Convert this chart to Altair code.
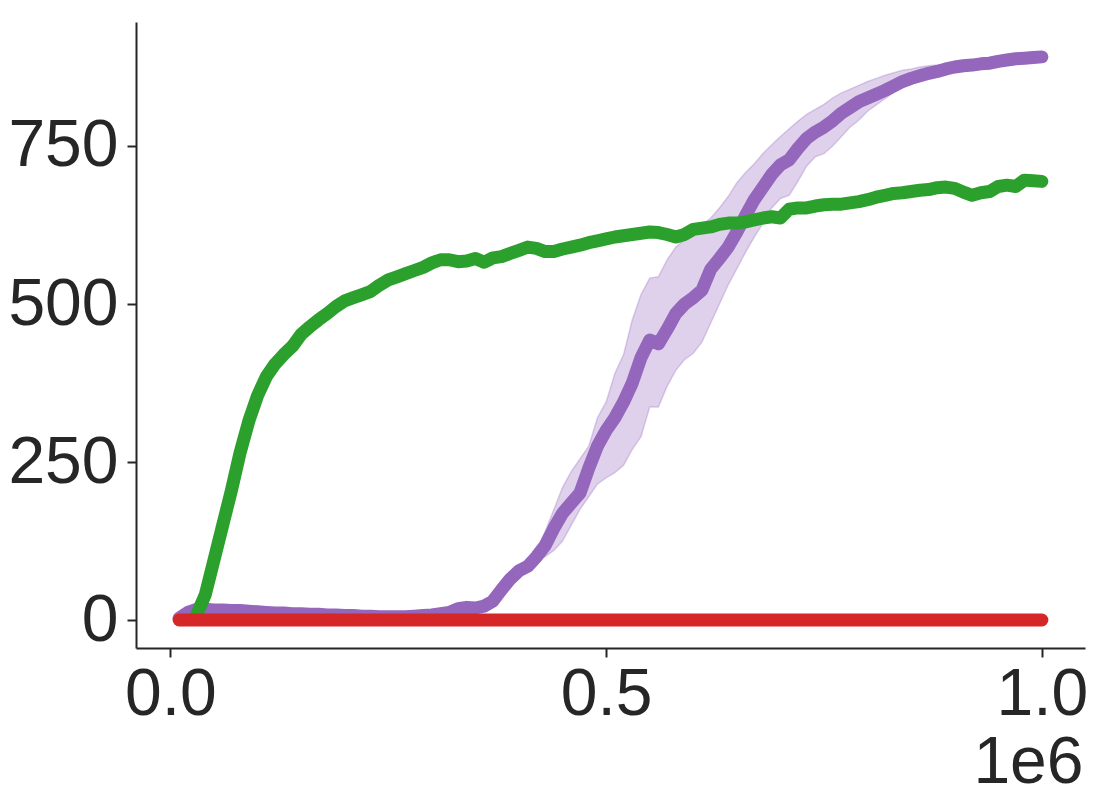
import altair as alt
import pandas as pd

# ---------------- data ----------------
# x positions in environment steps
x_grid = [k * 10000 for k in range(1, 101)]          # 0.01e6 .. 1.00e6

purple_y = [3, 12, 17, 17, 16, 16, 15, 15, 14, 13,
            12, 11, 11, 10, 10, 9, 9, 8, 8, 7,
            7, 6, 6, 5, 5, 5, 5, 6, 7, 8,
            10, 12, 18, 20, 19, 22, 30, 48, 65, 78,
            85, 100, 118, 145, 169, 185, 201, 240, 275, 300,
            320, 345, 375, 415, 443, 437, 460, 485, 500, 510,
            522, 555, 572, 590, 614, 640, 665, 685, 705, 720,
            728, 746, 762, 772, 780, 790, 802, 811, 820, 826,
            832, 838, 845, 852, 857, 861, 865, 868, 872, 875,
            877, 878, 880, 881, 884, 886, 888, 889, 890, 891]

band_x = [k * 10000 for k in range(40, 93)]          # 0.40e6 .. 0.92e6
purple_hi = [82, 89, 108, 140, 175, 210, 235, 255, 275, 320,
             345, 390, 420, 475, 515, 541, 543, 570, 590, 602,
             615, 625, 636, 652, 670, 692, 708, 722, 738, 752,
             765, 777, 789, 800, 808, 816, 826, 834, 840, 846,
             852, 857, 862, 866, 870, 872, 875, 877, 878, 879,
             880, 880, 881]
purple_lo = [74, 81, 96, 100, 110, 125, 150, 175, 195, 215,
             225, 233, 245, 270, 290, 337, 337, 370, 395, 412,
             422, 440, 470, 500, 530, 556, 582, 606, 628, 652,
             667, 672, 694, 718, 733, 738, 750, 765, 780, 791,
             805, 815, 825, 835, 843, 850, 855, 860, 864, 868,
             871, 874, 875]

green_x = [k * 10000 for k in range(3, 101)]         # 0.03e6 .. 1.00e6
green_y = [8, 40, 95, 150, 205, 265, 315, 355, 385, 405,
           420, 433, 452, 464, 475, 485, 496, 505, 510, 515,
           520, 530, 538, 543, 548, 553, 558, 565, 570, 570,
           567, 568, 572, 566, 573, 575, 580, 585, 590, 588,
           583, 583, 587, 590, 593, 597, 600, 603, 606, 608,
           610, 612, 614, 613, 610, 606, 610, 618, 620, 622,
           626, 628, 628, 630, 633, 636, 638, 636, 650, 652,
           652, 655, 657, 658, 658, 660, 662, 665, 669, 672,
           675, 676, 678, 680, 681, 684, 685, 683, 677, 672,
           676, 678, 686, 688, 686, 696, 695, 694]

red_y = [0.0] * len(x_grid)

x_ticks = [0, 500000, 1000000]
y_ticks = [0, 250, 500, 750]

PURPLE = "#9467bd"
GREEN = "#2ca02c"
RED = "#d62728"
INK = "#262626"
FONT = "Liberation Sans"

purple_df = pd.DataFrame({"x": x_grid, "y": purple_y})
band_df = pd.DataFrame({"x": band_x, "lo": purple_lo, "hi": purple_hi})
green_df = pd.DataFrame({"x": green_x, "y": green_y})
red_df = pd.DataFrame({"x": x_grid, "y": red_y})

W, H = 949, 626

x_enc = alt.X(
    "x:Q",
    scale=alt.Scale(domain=[-39500, 1049500], nice=False, zero=False),
    axis=alt.Axis(
        values=x_ticks,
        labelExpr="format(datum.value / 1e6, '.1f')",
        title="1e6",
        titleX=W - 2,
        titleY=134,
        titleAlign="right",
        titleBaseline="alphabetic",
        titleFontSize=66,
        titleFontWeight="normal",
        titleFont=FONT,
        titleColor=INK,
        labelPadding=5,
    ),
)
y_scale = alt.Scale(domain=[-44.3, 946.2], nice=False, zero=False)
y_axis = alt.Axis(values=y_ticks, title=None, labelPadding=9)

band = alt.Chart(band_df).mark_area(
    color=PURPLE, fillOpacity=0.3, stroke=PURPLE, strokeOpacity=0.3, strokeWidth=1.5
).encode(
    x=x_enc,
    y=alt.Y("lo:Q", scale=y_scale, axis=y_axis),
    y2="hi:Q",
)

def line(df, color):
    return alt.Chart(df).mark_line(
        color=color, strokeWidth=13, strokeCap="round", strokeJoin="round"
    ).encode(
        x=x_enc,
        y=alt.Y("y:Q", scale=y_scale, axis=y_axis),
    )

chart = alt.layer(
    band,
    line(purple_df, PURPLE),
    line(green_df, GREEN),
    line(red_df, RED),
).properties(
    width=W,
    height=H,
    autosize=alt.AutoSizeParams(type="none"),
    padding={"left": 128, "top": 14, "right": 3, "bottom": 148},
).configure(
    background="white"
).configure_view(
    stroke=None
).configure_axis(
    grid=False,
    domainColor=INK,
    domainWidth=2,
    tickColor=INK,
    tickWidth=2,
    tickSize=9,
    labelFont=FONT,
    labelFontSize=66,
    labelColor=INK,
)

chart.save("out.html", embed_options={"renderer": "svg", "actions": False})
